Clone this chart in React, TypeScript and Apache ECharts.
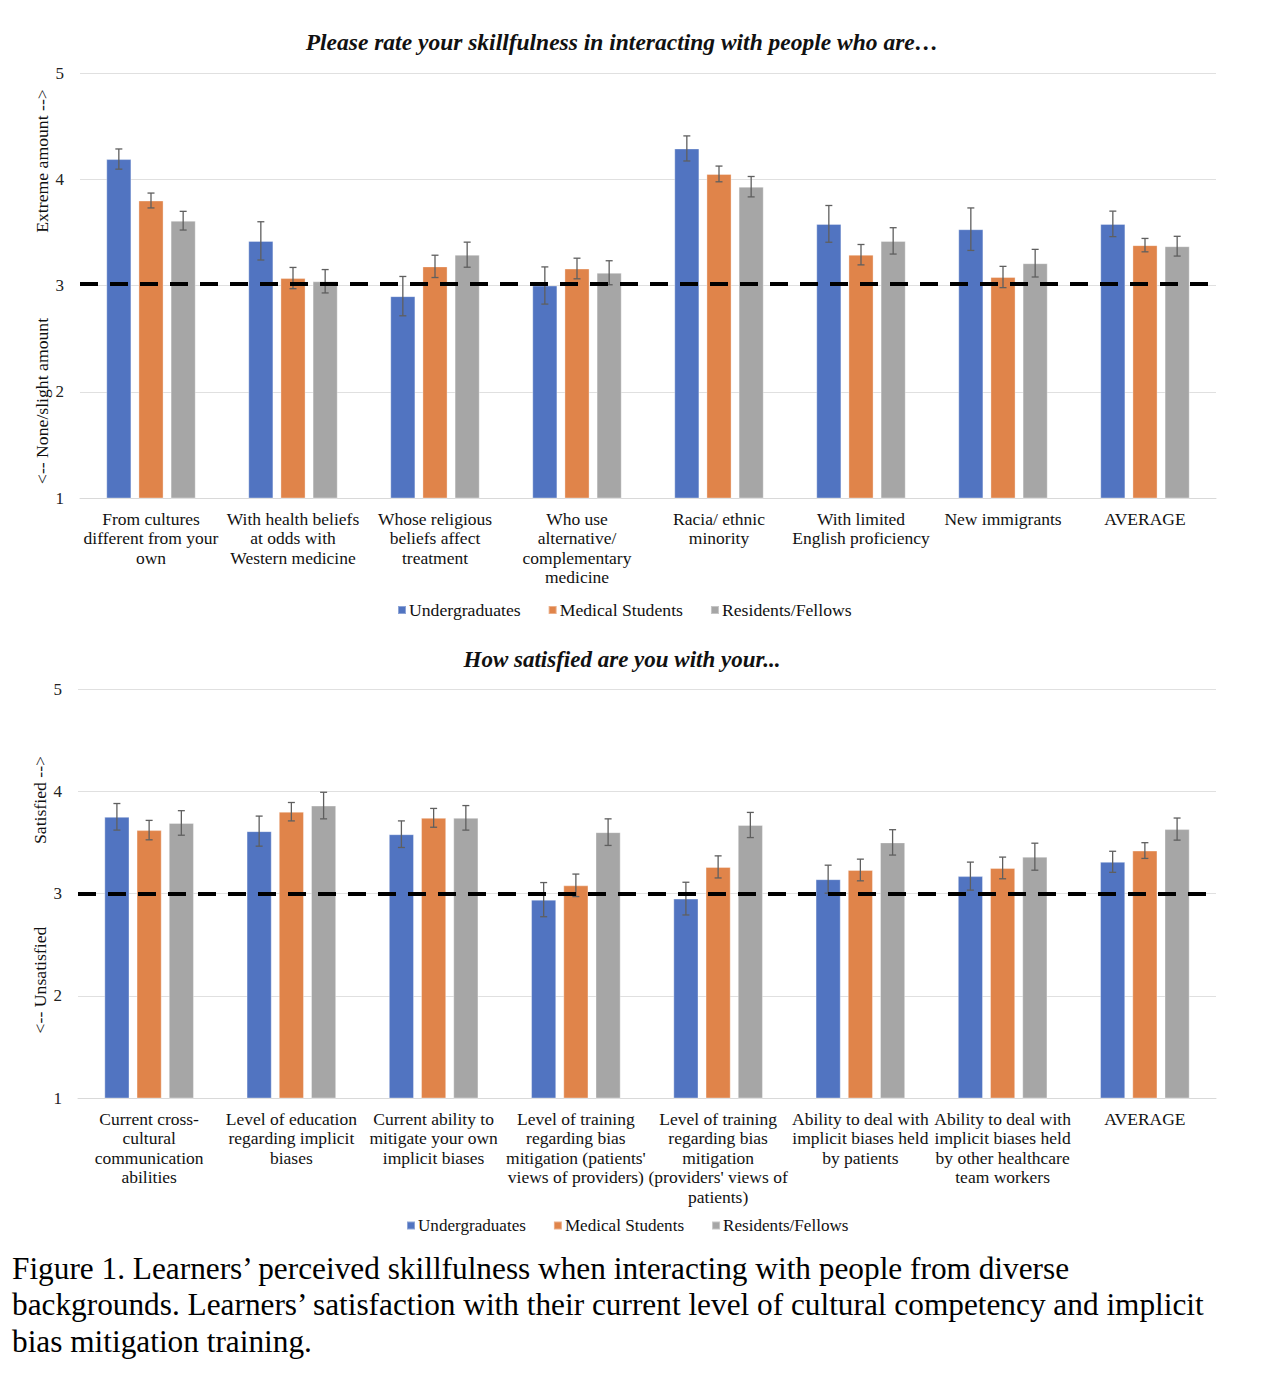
import React, { useEffect, useRef } from "react";
import * as echarts from "echarts";

const FONT = "'Liberation Serif', 'Times New Roman', serif";

const seriesNames = ["Undergraduates", "Medical Students", "Residents/Fellows"];
const colors = ["#5174C1", "#E0844A", "#A6A6A6"];

const topCategories = [
  "From cultures\ndifferent from your\nown",
  "With health beliefs\nat odds with\nWestern medicine",
  "Whose religious\nbeliefs affect\ntreatment",
  "Who use\nalternative/\ncomplementary\nmedicine",
  "Racia/ ethnic\nminority",
  "With limited\nEnglish proficiency",
  "New immigrants",
  "AVERAGE",
];
const topUndergrad = [4.19, 3.42, 2.9, 3.0, 4.29, 3.58, 3.53, 3.58];
const topUndergradErr = [0.095, 0.18, 0.185, 0.175, 0.118, 0.173, 0.2, 0.12];
const topMed = [3.8, 3.07, 3.18, 3.16, 4.05, 3.29, 3.08, 3.38];
const topMedErr = [0.07, 0.1, 0.105, 0.097, 0.074, 0.096, 0.1, 0.063];
const topRes = [3.61, 3.04, 3.29, 3.12, 3.93, 3.42, 3.21, 3.37];
const topResErr = [0.088, 0.11, 0.118, 0.113, 0.096, 0.124, 0.13, 0.093];

const bottomCategories = [
  "Current cross-\ncultural\ncommunication\nabilities",
  "Level of education\nregarding implicit\nbiases",
  "Current ability to\nmitigate your own\nimplicit biases",
  "Level of training\nregarding bias\nmitigation (patients'\nviews of providers)",
  "Level of training\nregarding bias\nmitigation\n(providers' views of\npatients)",
  "Ability to deal with\nimplicit biases held\nby patients",
  "Ability to deal with\nimplicit biases held\nby other healthcare\nteam workers",
  "AVERAGE",
];
const botUndergrad = [3.75, 3.61, 3.58, 2.94, 2.95, 3.14, 3.17, 3.31];
const botUndergradErr = [0.13, 0.147, 0.13, 0.167, 0.16, 0.137, 0.137, 0.103];
const botMed = [3.62, 3.8, 3.74, 3.08, 3.26, 3.23, 3.25, 3.42];
const botMedErr = [0.095, 0.09, 0.092, 0.11, 0.108, 0.106, 0.106, 0.077];
const botRes = [3.69, 3.86, 3.74, 3.6, 3.67, 3.5, 3.36, 3.63];
const botResErr = [0.12, 0.13, 0.12, 0.13, 0.123, 0.124, 0.132, 0.108];

const yTicks = [1, 2, 3, 4, 5];
const topRefLine = 3.02;
const bottomRefLine = 3;

const topTitle = "Please rate your skillfulness in interacting with people who are\u2026";
const bottomTitle = "How satisfied are you with your...";
const topYNameUpper = "Extreme amount -->";
const topYNameLower = "<-- None/slight amount";
const botYNameUpper = "Satisfied -->";
const botYNameLower = "<-- Unsatisfied";
const caption =
  "Figure 1. Learners\u2019 perceived skillfulness when interacting with people from diverse\nbackgrounds. Learners\u2019 satisfaction with their current level of cultural competency and implicit\nbias mitigation training.";

const CAT_GAP = 0.37;
const BAR_GAP = 0.28;

function makeErrSeries(gridIdx: number, sIdx: number, vals: number[], errs: number[]) {
  return {
    type: "custom",
    name: "err" + gridIdx + "_" + sIdx,
    xAxisIndex: gridIdx,
    yAxisIndex: gridIdx,
    z: 5,
    silent: true,
    data: vals.map((v, i) => [i, v, errs[i]]),
    encode: { x: 0, y: 1 },
    renderItem: (params: any, api: any) => {
      const idx = api.value(0);
      const v = api.value(1);
      const e = api.value(2);
      const band = api.size([1, 0])[0];
      const bw = (band * (1 - CAT_GAP)) / (3 + 2 * BAR_GAP);
      const off = (sIdx - 1) * bw * (1 + BAR_GAP);
      const top = api.coord([idx, v + e]);
      const bot = api.coord([idx, v - e]);
      const x = top[0] + off;
      const cap = 3.5;
      const style = { stroke: "#5f5f5f", lineWidth: 1.3 };
      return {
        type: "group",
        children: [
          { type: "line", shape: { x1: x, y1: top[1], x2: x, y2: bot[1] }, style },
          { type: "line", shape: { x1: x - cap, y1: top[1], x2: x + cap, y2: top[1] }, style },
          { type: "line", shape: { x1: x - cap, y1: bot[1], x2: x + cap, y2: bot[1] }, style },
        ],
      };
    },
  };
}

function makeBar(gridIdx: number, sIdx: number, vals: number[], refLine: number | null) {
  const s: any = {
    type: "bar",
    name: seriesNames[sIdx],
    xAxisIndex: gridIdx,
    yAxisIndex: gridIdx,
    data: vals,
    clip: true,
    barGap: BAR_GAP * 100 + "%",
    barCategoryGap: CAT_GAP * 100 + "%",
    itemStyle: { color: colors[sIdx], borderColor: "rgba(255,255,255,0.35)", borderWidth: 1 },
  };
  if (refLine !== null) {
    s.markLine = {
      silent: true,
      symbol: "none",
      label: { show: false },
      lineStyle: { color: "#000", width: 4, type: [18, 12] },
      data: [{ yAxis: refLine }],
      z: 10,
    };
  }
  return s;
}

export default function App() {
  const ref = useRef<HTMLDivElement>(null);
  useEffect(() => {
    if (!ref.current) return;
    const chart = echarts.init(ref.current, null, { renderer: "svg" });
    const axisLabelStyle = { fontFamily: FONT, fontSize: 17, color: "#222" };
    const xAxisCommon = (data: string[], gridIndex: number) => ({
      type: "category",
      gridIndex,
      data,
      axisTick: { show: false },
      axisLine: { lineStyle: { color: "#D9D9D9", width: 1 } },
      axisLabel: {
        interval: 0,
        fontFamily: FONT,
        fontSize: 17.5,
        color: "#111",
        lineHeight: 19.5,
        margin: 11,
        align: "center",
      },
    });
    const yAxisCommon = (gridIndex: number) => ({
      type: "value",
      gridIndex,
      min: yTicks[0],
      max: yTicks[yTicks.length - 1],
      interval: 1,
      axisLine: { show: false },
      axisTick: { show: false },
      splitLine: { lineStyle: { color: "#E0E0E0", width: 1 } },
      axisLabel: { ...axisLabelStyle, margin: 16 },
    });
    const legendCommon = (fontSize: number) => ({
      data: seriesNames,
      icon: "rect",
      itemWidth: 8,
      itemHeight: 8,
      itemGap: 27,
      textStyle: { fontFamily: FONT, fontSize, color: "#111", padding: [0, 0, 0, -2] },
      selectedMode: false,
    });
    const ynameStyle = { fontFamily: FONT, fontSize: 17.7, fill: "#111", align: "center", verticalAlign: "middle" };
    chart.setOption({
      animation: false,
      backgroundColor: "#ffffff",
      grid: [
        { left: 72, top: 65, width: 1136, height: 425 },
        { left: 70, top: 681, width: 1138, height: 409 },
      ],
      xAxis: [xAxisCommon(topCategories, 0), xAxisCommon(bottomCategories, 1)],
      yAxis: [yAxisCommon(0), yAxisCommon(1)],
      legend: [
        { ...legendCommon(17.7), left: 384, top: 588 },
        { ...legendCommon(17.1), left: 393, top: 1204 },
      ],
      series: [
        makeBar(0, 0, topUndergrad, topRefLine),
        makeBar(0, 1, topMed, null),
        makeBar(0, 2, topRes, null),
        makeErrSeries(0, 0, topUndergrad, topUndergradErr),
        makeErrSeries(0, 1, topMed, topMedErr),
        makeErrSeries(0, 2, topRes, topResErr),
        makeBar(1, 0, botUndergrad, bottomRefLine),
        makeBar(1, 1, botMed, null),
        makeBar(1, 2, botRes, null),
        makeErrSeries(1, 0, botUndergrad, botUndergradErr),
        makeErrSeries(1, 1, botMed, botMedErr),
        makeErrSeries(1, 2, botRes, botResErr),
      ],
      graphic: [
        {
          type: "text",
          x: 614,
          y: 34,
          style: { text: topTitle, fontFamily: FONT, fontSize: 23.5, fontWeight: "bold", fontStyle: "italic", fill: "#111", align: "center", verticalAlign: "middle" },
        },
        {
          type: "text",
          x: 614,
          y: 651,
          style: { text: bottomTitle, fontFamily: FONT, fontSize: 23, fontWeight: "bold", fontStyle: "italic", fill: "#111", align: "center", verticalAlign: "middle" },
        },
        { type: "text", x: 34, y: 153, rotation: Math.PI / 2, style: { ...ynameStyle, text: topYNameUpper } },
        { type: "text", x: 34, y: 393, rotation: Math.PI / 2, style: { ...ynameStyle, text: topYNameLower } },
        { type: "text", x: 32, y: 792, rotation: Math.PI / 2, style: { ...ynameStyle, text: botYNameUpper } },
        { type: "text", x: 32, y: 972, rotation: Math.PI / 2, style: { ...ynameStyle, text: botYNameLower } },
        {
          type: "text",
          x: 4,
          y: 1242,
          style: { text: caption, fontFamily: FONT, fontSize: 31.3, lineHeight: 36.5, fill: "#000", align: "left", verticalAlign: "top" },
        },
      ],
    });
    return () => chart.dispose();
  }, []);
  return <div ref={ref} style={{ width: 1260, height: 1376 }} />;
}
